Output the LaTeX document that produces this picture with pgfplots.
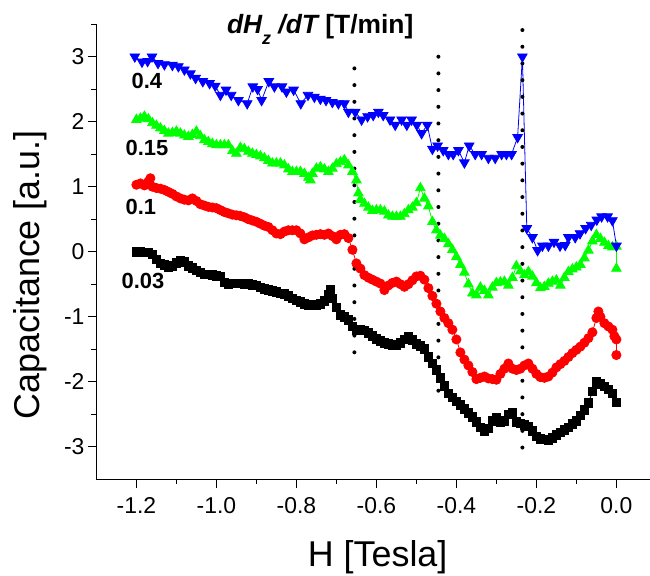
\documentclass[border=0pt]{standalone}
\usepackage{pgfplots}
\pgfplotsset{compat=1.18}
\usepackage{fontspec}
\setmainfont{Liberation Sans}

\begin{document}
\begin{tikzpicture}
\useasboundingbox (-96.4bp,-96.8bp) rectangle (553.6bp,479.2bp);
\begin{axis}[
  at={(0,0)}, anchor=south west,
  scale only axis, width=553.6bp, height=455bp,
  xmin=-1.3, xmax=0.084, ymin=-3.5, ymax=3.5,
  axis lines=left, axis line style={-, line width=1.3bp},
  clip=false,
  xtick={-1.2,-1.0,-0.8,-0.6,-0.4,-0.2,0.0},
  minor xtick={-1.1,-0.9,-0.7,-0.5,-0.3,-0.1},
  ytick={-3,-2,-1,0,1,2,3},
  minor ytick={-2.5,-1.5,-0.5,0.5,1.5,2.5,3.5},
  tick align=outside,
  major tick length=8.5bp, minor tick length=5bp,
  every tick/.style={black, line width=1.2bp},
  /pgf/number format/assume math mode=true,
  xticklabel style={/pgf/number format/fixed, /pgf/number format/fixed zerofill, /pgf/number format/precision=1, yshift=-6bp},
  ticklabel style={font=\fontsize{23}{23}\selectfont},
  xlabel={H [Tesla]},
  ylabel={Capacitance [a.u.]},
  label style={font=\fontsize{36}{36}\selectfont},
  xlabel style={at={(rel axis cs:0.508,-0.192)}, anchor=base},
  ylabel style={at={(rel axis cs:-0.102,0.449)}, anchor=base},
]

% 0.03 T/min
\addplot[black, line width=0.8bp, mark=square*, mark size=4.3bp] coordinates {
(-1.20,0.00)(-1.19,0.00)(-1.18,-0.01)(-1.17,-0.01)(-1.16,-0.04)(-1.15,-0.12)(-1.14,-0.18)(-1.13,-0.20)
(-1.12,-0.24)(-1.11,-0.22)(-1.10,-0.17)(-1.09,-0.14)(-1.08,-0.16)(-1.07,-0.22)(-1.06,-0.25)(-1.05,-0.29)
(-1.04,-0.32)(-1.03,-0.35)(-1.02,-0.35)(-1.01,-0.36)(-1.00,-0.37)(-0.99,-0.38)(-0.98,-0.47)(-0.97,-0.50)
(-0.96,-0.49)(-0.95,-0.49)(-0.94,-0.49)(-0.93,-0.50)(-0.92,-0.50)(-0.91,-0.51)(-0.90,-0.52)(-0.89,-0.55)
(-0.88,-0.57)(-0.87,-0.59)(-0.86,-0.60)(-0.85,-0.62)(-0.84,-0.64)(-0.83,-0.65)(-0.82,-0.68)(-0.81,-0.72)
(-0.80,-0.75)(-0.79,-0.77)(-0.78,-0.80)(-0.77,-0.82)(-0.76,-0.82)(-0.75,-0.82)(-0.74,-0.80)(-0.73,-0.76)
(-0.72,-0.66)(-0.715,-0.58)(-0.71,-0.72)(-0.70,-0.86)(-0.69,-0.97)(-0.68,-1.00)(-0.67,-1.05)(-0.66,-1.15)
(-0.65,-1.20)(-0.64,-1.20)(-0.63,-1.21)(-0.62,-1.25)(-0.61,-1.30)(-0.60,-1.34)(-0.59,-1.37)(-0.58,-1.40)
(-0.57,-1.42)(-0.56,-1.43)(-0.55,-1.43)(-0.54,-1.40)(-0.53,-1.35)(-0.52,-1.31)(-0.51,-1.36)(-0.50,-1.42)
(-0.49,-1.45)(-0.48,-1.50)(-0.47,-1.62)(-0.46,-1.72)(-0.45,-1.82)(-0.44,-1.94)(-0.43,-2.06)(-0.42,-2.18)
(-0.41,-2.24)(-0.40,-2.30)(-0.39,-2.36)(-0.38,-2.42)(-0.37,-2.48)(-0.36,-2.54)(-0.35,-2.62)(-0.34,-2.70)
(-0.33,-2.76)(-0.32,-2.72)(-0.31,-2.60)(-0.30,-2.55)(-0.29,-2.62)(-0.28,-2.60)(-0.27,-2.50)(-0.26,-2.47)
(-0.25,-2.62)(-0.24,-2.64)(-0.23,-2.66)(-0.22,-2.69)(-0.21,-2.76)(-0.20,-2.84)(-0.19,-2.88)(-0.18,-2.89)
(-0.17,-2.90)(-0.16,-2.86)(-0.15,-2.82)(-0.14,-2.78)(-0.13,-2.74)(-0.12,-2.70)(-0.11,-2.65)(-0.10,-2.60)
(-0.09,-2.52)(-0.08,-2.43)(-0.07,-2.33)(-0.06,-2.15)(-0.05,-2.00)(-0.04,-2.03)(-0.03,-2.07)(-0.02,-2.12)
(-0.01,-2.18)(0.00,-2.32)
};

% 0.1 T/min
\addplot[red, line width=0.8bp, mark=*, mark size=4.6bp] coordinates {
(-1.20,1.03)(-1.19,1.05)(-1.18,1.02)(-1.17,1.08)(-1.165,1.13)(-1.16,1.00)(-1.15,0.98)(-1.14,0.97)
(-1.13,0.95)(-1.12,0.92)(-1.11,0.89)(-1.10,0.85)(-1.09,0.82)(-1.08,0.80)(-1.07,0.79)(-1.06,0.82)
(-1.05,0.78)(-1.04,0.73)(-1.03,0.71)(-1.02,0.69)(-1.01,0.68)(-1.00,0.67)(-0.99,0.64)(-0.98,0.61)
(-0.97,0.59)(-0.96,0.57)(-0.95,0.56)(-0.94,0.55)(-0.93,0.53)(-0.92,0.50)(-0.91,0.48)(-0.90,0.46)
(-0.89,0.43)(-0.88,0.40)(-0.87,0.38)(-0.86,0.33)(-0.85,0.28)(-0.84,0.27)(-0.83,0.31)(-0.82,0.33)
(-0.81,0.33)(-0.80,0.33)(-0.79,0.28)(-0.78,0.19)(-0.77,0.22)(-0.76,0.25)(-0.75,0.26)(-0.74,0.27)
(-0.73,0.26)(-0.72,0.28)(-0.71,0.24)(-0.70,0.19)(-0.69,0.26)(-0.68,0.27)(-0.67,0.21)(-0.66,0.03)
(-0.65,-0.18)(-0.64,-0.26)(-0.63,-0.36)(-0.62,-0.40)(-0.61,-0.43)(-0.60,-0.46)(-0.59,-0.49)(-0.58,-0.59)
(-0.57,-0.52)(-0.56,-0.48)(-0.55,-0.46)(-0.54,-0.50)(-0.53,-0.54)(-0.52,-0.50)(-0.51,-0.44)(-0.50,-0.38)
(-0.49,-0.37)(-0.48,-0.43)(-0.47,-0.56)(-0.46,-0.68)(-0.45,-0.80)(-0.44,-0.92)(-0.43,-1.02)(-0.42,-1.10)
(-0.41,-1.20)(-0.40,-1.35)(-0.39,-1.55)(-0.38,-1.66)(-0.37,-1.75)(-0.36,-1.85)(-0.35,-1.96)(-0.34,-1.94)
(-0.33,-1.92)(-0.32,-1.95)(-0.31,-1.96)(-0.30,-1.97)(-0.29,-1.88)(-0.28,-1.80)(-0.27,-1.72)(-0.26,-1.80)
(-0.25,-1.82)(-0.24,-1.80)(-0.23,-1.75)(-0.22,-1.72)(-0.21,-1.80)(-0.20,-1.88)(-0.19,-1.93)(-0.18,-1.94)
(-0.17,-1.92)(-0.16,-1.86)(-0.15,-1.78)(-0.14,-1.73)(-0.13,-1.68)(-0.12,-1.62)(-0.11,-1.56)(-0.10,-1.51)
(-0.09,-1.46)(-0.08,-1.40)(-0.07,-1.33)(-0.06,-1.24)(-0.05,-1.02)(-0.045,-0.92)(-0.04,-1.00)(-0.03,-1.10)
(-0.02,-1.15)(-0.01,-1.20)(-0.005,-1.30)(0.00,-1.35)(0.00,-1.59)
};

% 0.15 T/min
\addplot[green, line width=0.8bp, mark=triangle*, mark size=5.5bp] coordinates {
(-1.20,2.03)(-1.19,2.05)(-1.18,2.08)(-1.17,2.04)(-1.16,1.98)(-1.15,1.94)(-1.14,1.90)(-1.13,1.86)
(-1.12,1.82)(-1.11,1.83)(-1.10,1.85)(-1.09,1.82)(-1.08,1.79)(-1.07,1.77)(-1.06,1.80)(-1.05,1.85)
(-1.04,1.78)(-1.03,1.72)(-1.02,1.69)(-1.01,1.66)(-1.00,1.64)(-0.99,1.64)(-0.98,1.64)(-0.97,1.64)
(-0.96,1.55)(-0.95,1.51)(-0.94,1.60)(-0.93,1.58)(-0.92,1.54)(-0.91,1.51)(-0.90,1.49)(-0.89,1.47)
(-0.88,1.44)(-0.87,1.40)(-0.86,1.36)(-0.85,1.36)(-0.84,1.36)(-0.83,1.33)(-0.82,1.27)(-0.81,1.23)
(-0.80,1.23)(-0.79,1.23)(-0.78,1.20)(-0.77,1.14)(-0.765,1.10)(-0.76,1.20)(-0.75,1.28)(-0.74,1.30)
(-0.73,1.27)(-0.72,1.23)(-0.71,1.28)(-0.70,1.35)(-0.69,1.38)(-0.68,1.41)(-0.67,1.33)(-0.66,1.23)
(-0.65,1.10)(-0.645,0.90)(-0.64,0.80)(-0.63,0.74)(-0.62,0.68)(-0.61,0.63)(-0.60,0.64)(-0.59,0.64)
(-0.58,0.62)(-0.57,0.56)(-0.56,0.54)(-0.55,0.54)(-0.54,0.54)(-0.53,0.58)(-0.52,0.64)(-0.51,0.68)
(-0.50,0.75)(-0.49,0.98)(-0.48,0.82)(-0.47,0.70)(-0.46,0.46)(-0.45,0.33)(-0.44,0.25)(-0.43,0.20)
(-0.42,0.12)(-0.41,0.03)(-0.40,-0.08)(-0.39,-0.20)(-0.38,-0.32)(-0.37,-0.50)(-0.36,-0.64)(-0.35,-0.67)
(-0.34,-0.55)(-0.33,-0.60)(-0.32,-0.67)(-0.31,-0.55)(-0.30,-0.48)(-0.29,-0.47)(-0.28,-0.46)(-0.27,-0.52)
(-0.26,-0.40)(-0.25,-0.22)(-0.24,-0.30)(-0.23,-0.36)(-0.22,-0.31)(-0.21,-0.38)(-0.20,-0.48)(-0.19,-0.56)
(-0.18,-0.54)(-0.17,-0.49)(-0.16,-0.46)(-0.15,-0.44)(-0.14,-0.52)(-0.13,-0.40)(-0.12,-0.31)(-0.11,-0.27)
(-0.10,-0.24)(-0.09,-0.20)(-0.08,-0.10)(-0.07,0.02)(-0.06,0.16)(-0.05,0.26)(-0.04,0.20)(-0.03,0.14)
(-0.02,0.09)(-0.01,0.07)(0.00,0.08)(0.00,-0.26)
};

% 0.4 T/min
\addplot[blue, line width=0.8bp, mark=triangle*, mark size=5.5bp, mark options={rotate=180}] coordinates {
(-1.204,3.00)(-1.186,2.92)(-1.172,2.93)(-1.161,3.00)(-1.146,2.90)(-1.13,2.88)(-1.11,2.87)(-1.095,2.85)
(-1.08,2.80)(-1.065,2.74)(-1.052,2.67)(-1.034,2.62)(-1.017,2.59)(-1.003,2.55)(-0.99,2.41)(-0.976,2.49)
(-0.963,2.41)(-0.945,2.33)(-0.923,2.28)(-0.909,2.54)(-0.897,2.50)(-0.887,2.33)(-0.869,2.62)(-0.855,2.54)
(-0.836,2.54)(-0.825,2.46)(-0.807,2.49)(-0.789,2.28)(-0.771,2.41)(-0.755,2.38)(-0.74,2.35)(-0.726,2.33)
(-0.71,2.30)(-0.695,2.28)(-0.68,2.28)(-0.67,2.15)(-0.653,2.15)(-0.637,2.03)(-0.622,2.08)(-0.608,2.10)
(-0.595,2.15)(-0.583,2.10)(-0.566,2.03)(-0.553,1.95)(-0.537,2.03)(-0.524,1.95)(-0.512,2.03)(-0.499,1.95)
(-0.487,1.82)(-0.473,1.95)(-0.46,1.58)(-0.447,1.63)(-0.433,1.56)(-0.42,1.50)(-0.408,1.50)(-0.395,1.56)
(-0.38,1.37)(-0.368,1.63)(-0.353,1.50)(-0.337,1.50)(-0.32,1.44)(-0.303,1.44)(-0.287,1.50)(-0.275,1.50)
(-0.262,1.50)(-0.247,1.76)(-0.235,3.00)(-0.224,0.36)(-0.21,0.22)(-0.197,0.02)(-0.185,0.09)(-0.17,0.09)
(-0.156,0.15)(-0.141,0.09)(-0.128,0.10)(-0.12,0.22)(-0.103,0.22)(-0.091,0.28)(-0.077,0.36)(-0.063,0.41)
(-0.049,0.49)(-0.037,0.54)(-0.022,0.54)(-0.01,0.48)(0.0,0.09)
};

% dotted guides
\addplot[black, line width=4bp, line cap=round, dash pattern=on 0bp off 16.7bp] coordinates {(-0.655,2.82)(-0.655,-1.74)};
\addplot[black, line width=4bp, line cap=round, dash pattern=on 0bp off 16.7bp] coordinates {(-0.445,3.00)(-0.445,-2.31)};
\addplot[black, line width=4bp, line cap=round, dash pattern=on 0bp off 16.7bp] coordinates {(-0.235,3.41)(-0.235,-3.15)};

% curve labels
\node[anchor=west, inner sep=0, font=\bfseries\fontsize{22}{22}\selectfont] at (axis cs:-1.2125,2.62) {0.4};
\node[anchor=west, inner sep=0, font=\bfseries\fontsize{22}{22}\selectfont] at (axis cs:-1.2275,1.595) {0.15};
\node[anchor=west, inner sep=0, font=\bfseries\fontsize{22}{22}\selectfont] at (axis cs:-1.2275,0.695) {0.1};
\node[anchor=west, inner sep=0, font=\bfseries\fontsize{22}{22}\selectfont] at (axis cs:-1.2375,-0.45) {0.03};

% title
\node[anchor=base west, inner sep=0, font=\bfseries\fontsize{26.5}{26.5}\selectfont] at (axis cs:-0.974,3.35)
  {\itshape dH\raisebox{-0.4em}{\fontsize{18}{18}\selectfont z} /dT\upshape{} [T/min]};
\end{axis}
\end{tikzpicture}
\end{document}
